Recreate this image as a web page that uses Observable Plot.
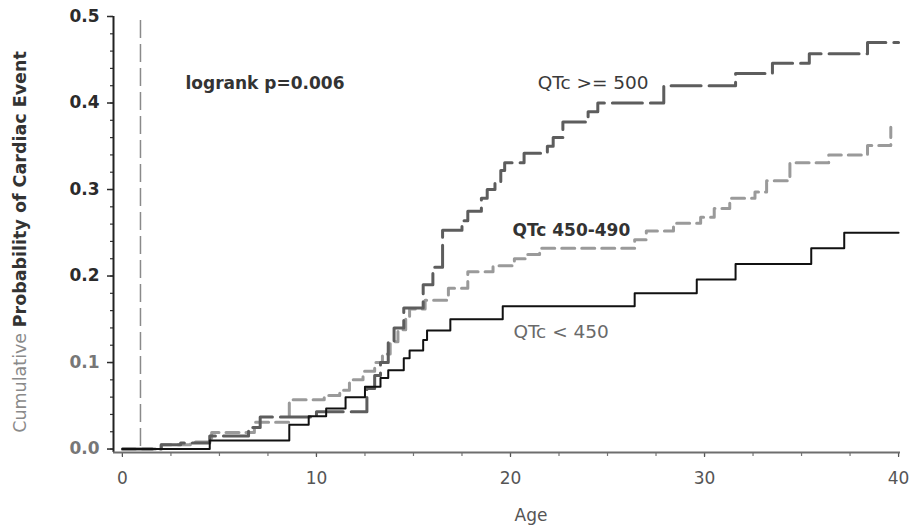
<!DOCTYPE html>
<html>
<head>
<meta charset="utf-8">
<script src="https://cdn.jsdelivr.net/npm/d3@7"></script>
<script src="https://cdn.jsdelivr.net/npm/@observablehq/plot@0.6"></script>
<style>
  html, body { margin: 0; padding: 0; background: #fff; }
  #chart svg { display: block; }
</style>
</head>
<body>
<div id="chart"></div>
<script>
// ---- Data ----
const groups = ["QTc < 450", "QTc 450-490", "QTc >= 500"];

const ageLt450  = [0, 4.5, 8.6, 9.6, 10.5, 11.5, 12.5, 13.3, 13.7, 14.5, 14.8, 15.5, 15.7, 16.9, 19.6, 26.4, 29.6, 31.6, 35.5, 37.2, 40];
const probLt450 = [0, 0.010, 0.028, 0.038, 0.047, 0.060, 0.072, 0.082, 0.091, 0.105, 0.114, 0.126, 0.137, 0.150, 0.165, 0.180, 0.196, 0.214, 0.232, 0.250, 0.250];

const age450to490  = [0, 2.0, 3.5, 4.6, 6.8, 8.6, 10.4, 11.2, 11.7, 12.4, 13.0, 13.4, 13.8, 14.2, 14.6, 14.8, 15.6, 16.8, 17.8, 19.1, 20.2, 20.8, 21.5, 26.4, 27.0, 28.4, 29.8, 30.5, 31.3, 32.6, 33.2, 34.4, 36.4, 38.4, 39.6];
const prob450to490 = [0, 0.005, 0.008, 0.019, 0.031, 0.057, 0.062, 0.068, 0.080, 0.090, 0.100, 0.110, 0.124, 0.138, 0.150, 0.162, 0.172, 0.186, 0.205, 0.212, 0.220, 0.225, 0.232, 0.242, 0.252, 0.261, 0.268, 0.278, 0.290, 0.297, 0.310, 0.331, 0.340, 0.351, 0.372];

const ageGe500  = [0, 2.0, 3.0, 4.5, 6.5, 7.1, 10.0, 12.6, 13.0, 13.3, 13.7, 14.0, 14.5, 15.5, 16.0, 16.5, 17.5, 17.8, 18.5, 18.8, 19.2, 19.5, 19.7, 20.7, 21.9, 22.2, 22.7, 24.0, 24.5, 27.9, 31.6, 33.5, 35.4, 38.4, 40];
const probGe500 = [0, 0.005, 0.007, 0.015, 0.025, 0.037, 0.043, 0.070, 0.085, 0.100, 0.125, 0.140, 0.163, 0.190, 0.210, 0.253, 0.264, 0.275, 0.290, 0.300, 0.308, 0.322, 0.331, 0.342, 0.350, 0.360, 0.378, 0.390, 0.400, 0.420, 0.434, 0.446, 0.457, 0.470, 0.470];

const referenceAge = [0.93];

const yTickValues = [0, 0.1, 0.2, 0.3, 0.4, 0.5];
const xTickValues = [0, 10, 20, 30, 40];

const annotationText = ["logrank p=0.006", "QTc >= 500", "QTc 450-490", "QTc < 450"];
const annotationAge  = [3.25, 21.4, 20.1, 20.15];
const annotationProb = [0.423, 0.423, 0.253, 0.135];

// ---- Build tables ----
const toRows = (ages, probs, g) => ages.map((a, i) => ({age: a, prob: probs[i], group: g}));
const rowsLt450 = toRows(ageLt450, probLt450, groups[0]);
const rows450   = toRows(age450to490, prob450to490, groups[1]);
const rowsGe500 = toRows(ageGe500, probGe500, groups[2]);
const notes = annotationText.map((t, i) => ({text: t, age: annotationAge[i], prob: annotationProb[i]}));

const xMin = -0.46, xMax = 40.1, yMin = -0.004, yMax = 0.5;
const yMinor = d3.range(0, 0.5001, 0.02);
const xMinor = d3.range(0, 40.001, 2.5);

const font = "'DejaVu Sans', Verdana, sans-serif";

const chart = Plot.plot({
  width: 909,
  height: 529,
  marginLeft: 113,
  marginRight: 9,
  marginTop: 16,
  marginBottom: 77,
  x: {domain: [xMin, xMax], label: null},
  y: {domain: [yMin, yMax], label: null},
  style: {fontFamily: font, background: "#fff", overflow: "visible"},
  marks: [
    // minor ticks
    Plot.axisY(yMinor, {tickSize: 3, tickFormat: () => "", stroke: "#333", strokeWidth: 1.2, label: null}),
    Plot.axisX(xMinor, {tickSize: 4, tickFormat: () => "", stroke: "#777", strokeWidth: 1.2, label: null}),
    // major ticks + labels
    Plot.axisY(yTickValues, {tickSize: 6, tickPadding: 8, tickFormat: d => d.toFixed(1), fontSize: 17, fontWeight: "bold", color: "#2b2b2b", strokeWidth: 1.5, label: null}),
    Plot.axisX(xTickValues, {tickSize: 5, tickPadding: 14, fontSize: 17, color: "#555", strokeWidth: 1.2, label: null}),
    // axis lines
    Plot.ruleX([xMin], {y1: yMin, y2: yMax, stroke: "#222", strokeWidth: 2}),
    Plot.ruleY([yMin], {x1: xMin, x2: xMax, stroke: "#6e6e6e", strokeWidth: 2}),
    // reference dashed line
    Plot.ruleX(referenceAge, {y1: 0.003, y2: yMax, stroke: "#8a8a8a", strokeWidth: 1.5, strokeDasharray: "18,6"}),
    // curves
    Plot.line(rows450, {x: "age", y: "prob", curve: "step-after", stroke: "#9a9a9a", strokeWidth: 3, strokeDasharray: "13,7"}),
    Plot.line(rowsGe500, {x: "age", y: "prob", curve: "step-after", stroke: "#5d5d5d", strokeWidth: 3, strokeDasharray: "30,8"}),
    Plot.line(rowsLt450, {x: "age", y: "prob", curve: "step-after", stroke: "#111", strokeWidth: 2}),
    // annotations
    Plot.text(notes.filter(d => d.text === annotationText[0]), {x: "age", y: "prob", text: "text", textAnchor: "start", fontSize: 17, fontWeight: "bold", fill: "#333"}),
    Plot.text(notes.filter(d => d.text === annotationText[1]), {x: "age", y: "prob", text: "text", textAnchor: "start", fontSize: 18.5, fill: "#3a3a3a"}),
    Plot.text(notes.filter(d => d.text === annotationText[2]), {x: "age", y: "prob", text: "text", textAnchor: "start", fontSize: 17, fontWeight: "bold", fill: "#333"}),
    Plot.text(notes.filter(d => d.text === annotationText[3]), {x: "age", y: "prob", text: "text", textAnchor: "start", fontSize: 18.5, fill: "#6a6a6a"})
  ]
});

document.getElementById("chart").appendChild(chart);

// Axis titles and tick colour tweaks
const svg = d3.select(chart);
svg.selectAll("text").filter(function() { return ["0.1", "0.0"].includes(this.textContent); })
  .attr("fill", "#777");

svg.append("text")
  .attr("x", 531).attr("y", 521)
  .attr("text-anchor", "middle")
  .attr("fill", "#555")
  .style("font-family", font).style("font-size", "17px")
  .text("Age");

const yt = svg.append("text")
  .attr("transform", "translate(26,242) rotate(-90)")
  .attr("text-anchor", "middle")
  .style("font-family", font).style("font-size", "17.5px");
yt.append("tspan").attr("fill", "#8a8a8a").text("Cumulative ");
yt.append("tspan").attr("fill", "#333").style("font-weight", "bold").text("Probability of Cardiac Event");
</script>
</body>
</html>
